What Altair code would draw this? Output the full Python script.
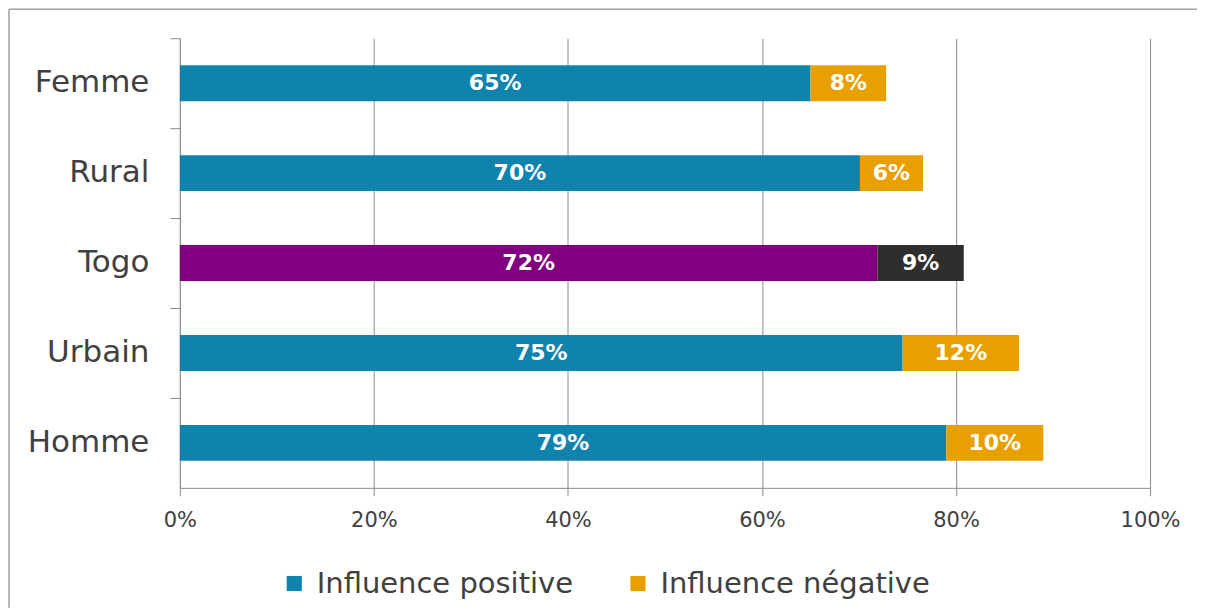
import altair as alt
import pandas as pd

categories = ["Femme", "Rural", "Togo", "Urbain", "Homme"]
positive = [65.0, 70.1, 71.9, 74.5, 79.0]
negative = [7.8, 6.5, 8.9, 12.0, 10.0]
pos_labels = ["65%", "70%", "72%", "75%", "79%"]
neg_labels = ["8%", "6%", "9%", "12%", "10%"]
series = ["Influence positive", "Influence négative"]
highlight = "Togo"
color_keys = ["Influence positive", "Influence négative", "Togo positive", "Togo négative"]
color_range = ["#1083AD", "#E8A000", "#800080", "#2E2E2E"]

FONT = "DejaVu Sans"
GRAY = "#8C8C8C"
TXT = "#404040"

rows = []
for i, c in enumerate(categories):
    rows.append(dict(cat=c, serie=series[0], value=positive[i] / 100, label=pos_labels[i], order=0,
                     key=series[0] if c != highlight else "Togo positive"))
    rows.append(dict(cat=c, serie=series[1], value=negative[i] / 100, label=neg_labels[i], order=1,
                     key=series[1] if c != highlight else "Togo négative"))
df = pd.DataFrame(rows)

base = alt.Chart(df).transform_stack(
    stack="value", groupby=["cat"], as_=["x0", "x1"], sort=[alt.SortField("order")]
).transform_calculate(mid="(datum.x0 + datum.x1) / 2")

xscale = alt.Scale(domain=[0, 1], nice=False)
yenc = alt.Y("cat:N", sort=categories, title=None,
             scale=alt.Scale(paddingInner=0, paddingOuter=0),
             axis=alt.Axis(bandPosition=0, tickSize=10, labelPadding=21, labelFontSize=31,
                           labelFont=FONT, labelColor=TXT, domainColor=GRAY, tickColor=GRAY,
                           grid=False, minExtent=171, maxExtent=171, labelLimit=200))

bars = base.mark_bar(size=36).encode(
    y=yenc,
    x=alt.X("x0:Q", scale=xscale, title=None,
            axis=alt.Axis(values=[0, 0.2, 0.4, 0.6, 0.8, 1.0], format=".0%", tickSize=8,
                          labelPadding=14, labelFontSize=21, labelFont=FONT, labelColor=TXT,
                          labelFlush=False, domainColor=GRAY, tickColor=GRAY, gridColor=GRAY,
                          gridOpacity=1)),
    x2="x1:Q",
    color=alt.Color("key:N", scale=alt.Scale(domain=color_keys, range=color_range),
                    legend=alt.Legend(values=series, title=None, orient="none", direction="horizontal",
                                      legendX=100, legendY=531, symbolType="square", symbolSize=230,
                                      symbolStrokeWidth=0, labelFontSize=29, labelFont=FONT,
                                      labelColor=TXT, labelOffset=8, columnPadding=50, padding=0,
                                      labelLimit=400)),
)

text = base.mark_text(color="white", fontWeight="bold", fontSize=22, font=FONT).encode(
    y=alt.Y("cat:N", sort=categories),
    x=alt.X("mid:Q", scale=xscale),
    text="label:N",
)

frame = pd.DataFrame({"f": [0]})
top_line = alt.Chart(frame).mark_rule(color="#A0A0A0", strokeWidth=1.5).encode(
    x=alt.value(-171), x2=alt.value(1018), y=alt.value(-29))
left_line = alt.Chart(frame).mark_rule(color="#A0A0A0", strokeWidth=1.5).encode(
    x=alt.value(-171), y=alt.value(-29), y2=alt.value(570))

chart = alt.layer(bars, text, top_line, left_line).properties(
    width=971, height=450, padding={"left": 0, "top": 0, "right": 0, "bottom": 0}
).configure_view(stroke=None)

chart.save("out.html", embed_options={"renderer": "svg", "actions": False})
